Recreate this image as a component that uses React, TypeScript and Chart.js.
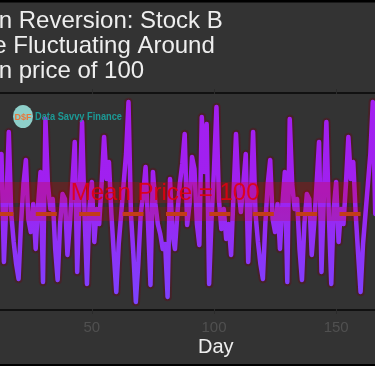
import React, { useEffect, useRef } from "react";
import { Chart, registerables } from "chart.js";

Chart.register(...registerables);

const titleLines = ["Mean Reversion: Stock B", "Price Fluctuating Around", "Mean price of 100"];
const xAxisTitle = "Day";
const xTickValues = [50, 100, 150];
const meanPrice = 100;
const meanLabel = "Mean Price = 100";
const meanLineEndDay = 160;
const brandName = "Data Savvy Finance";
const brandInitials = "D$F";

// daily prices, day 0 .. 199
const prices = [
  104.5, 110.7, 101.5, 98.5, 100.5, 97.5, 99.0, 95.9, 102.0, 108.0,
  102.5, 100.2, 103.0, 106.0, 95.2, 101.0, 108.2, 100.0, 97.2, 95.0,
  93.5, 99.0, 103.0, 105.4, 99.5, 98.2, 101.0, 96.5, 101.0, 104.2,
  93.2, 109.5, 103.0, 100.5, 101.5, 96.5, 93.4, 99.0, 102.0, 101.5,
  95.9, 99.0, 103.0, 107.2, 94.2, 102.0, 109.2, 100.0, 93.0, 100.5,
  103.2, 97.2, 100.5, 99.0, 103.0, 107.7, 103.5, 105.2, 100.0, 96.0,
  92.2, 97.0, 100.0, 103.0, 106.0, 111.2, 100.0, 96.0, 91.2, 95.0,
  100.0, 102.0, 104.7, 99.0, 92.9, 104.2, 101.0, 99.0, 98.0, 96.5,
  97.0, 91.7, 103.5, 98.0, 96.5, 100.0, 103.0, 105.0, 108.0, 98.9,
  101.0, 105.7, 104.5, 99.0, 96.9, 109.7, 104.2, 109.0, 93.0, 99.5,
  104.5, 110.7, 101.5, 98.5, 100.5, 97.5, 99.0, 95.9, 102.0, 108.0,
  102.5, 100.2, 103.0, 106.0, 95.2, 101.0, 108.2, 100.0, 97.2, 95.0,
  93.5, 99.0, 103.0, 105.4, 99.5, 98.2, 101.0, 96.5, 101.0, 104.2,
  93.2, 109.5, 103.0, 100.5, 101.5, 96.5, 93.4, 99.0, 102.0, 101.5,
  95.9, 99.0, 103.0, 107.2, 94.2, 102.0, 109.2, 100.0, 93.0, 100.5,
  103.2, 97.2, 100.5, 99.0, 103.0, 107.7, 103.5, 105.2, 100.0, 96.0,
  92.2, 97.0, 100.0, 103.0, 106.0, 111.2, 100.0, 96.0, 91.2, 95.0,
  100.0, 102.0, 104.7, 99.0, 92.9, 104.2, 101.0, 99.0, 98.0, 96.5,
  97.0, 91.7, 103.5, 98.0, 96.5, 100.0, 103.0, 105.0, 108.0, 98.9,
  101.0, 105.7, 104.5, 99.0, 96.9, 109.7, 104.2, 109.0, 93.0, 99.5,
];
const days = prices.map((_, i) => i);

const FONT = '"Liberation Sans", Arial, sans-serif';

export default function App() {
  const ref = useRef<HTMLCanvasElement | null>(null);

  useEffect(() => {
    const canvas = ref.current;
    if (!canvas) return;

    const decor = {
      id: "decor",
      beforeDraw(chart: any) {
        const ctx = chart.ctx;
        ctx.save();
        ctx.fillStyle = "#333333";
        ctx.fillRect(0, 0, chart.width, chart.height);
        ctx.fillStyle = "#000000";
        ctx.fillRect(0, 0, chart.width, 2.5);
        ctx.fillRect(0, chart.height - 2, chart.width, 2);
        ctx.restore();
      },
      afterDatasetsDraw(chart: any) {
        const ctx = chart.ctx;
        const xs = chart.scales.x;
        const ys = chart.scales.y;
        const a = chart.chartArea;
        const x0 = xs.getPixelForValue(0);
        const x1 = xs.getPixelForValue(meanLineEndDay);
        const ym = ys.getPixelForValue(meanPrice);
        ctx.save();

        // mean line glow band
        ctx.fillStyle = "rgba(220,0,0,0.2)";
        ctx.fillRect(x0, ym - 7, x1 - x0, 14);
        // dashed mean line
        ctx.strokeStyle = "rgb(195,60,25)";
        ctx.lineWidth = 4;
        ctx.setLineDash([21, 22.4]);
        ctx.beginPath();
        ctx.moveTo(x1, ym);
        ctx.lineTo(x0, ym);
        ctx.stroke();
        ctx.setLineDash([]);

        // annotation box + text
        ctx.fillStyle = "rgba(220,0,0,0.25)";
        ctx.fillRect(x0, ym - 32, x1 - x0, 21);
        ctx.fillStyle = "rgba(225,0,15,0.9)";
        ctx.font = `24px ${FONT}`;
        ctx.textAlign = "center";
        ctx.textBaseline = "alphabetic";
        ctx.fillText(meanLabel, xs.getPixelForValue(meanLineEndDay / 2), ym - 14);

        // axis borders
        ctx.strokeStyle = "#111111";
        ctx.lineWidth = 2;
        ctx.beginPath();
        ctx.moveTo(0, a.top);
        ctx.lineTo(chart.width, a.top);
        ctx.moveTo(0, a.bottom);
        ctx.lineTo(chart.width, a.bottom);
        ctx.stroke();
        ctx.strokeStyle = "#2a2a2a";
        ctx.lineWidth = 1;
        for (const v of xTickValues) {
          const px = Math.round(xs.getPixelForValue(v)) + 0.5;
          ctx.beginPath();
          ctx.moveTo(px, a.bottom - 1);
          ctx.lineTo(px, a.bottom + 4);
          ctx.moveTo(px, a.top - 4);
          ctx.lineTo(px, a.top + 1);
          ctx.stroke();
        }

        // tick labels
        ctx.fillStyle = "#505050";
        ctx.font = `15px ${FONT}`;
        ctx.textAlign = "center";
        for (const v of xTickValues) {
          ctx.fillText(String(v), xs.getPixelForValue(v), a.bottom + 22);
        }

        // axis title
        ctx.fillStyle = "#eeeeee";
        ctx.font = `20px ${FONT}`;
        ctx.fillText(xAxisTitle, xs.getPixelForValue(100.7), a.bottom + 42.5);

        // chart title
        ctx.textAlign = "left";
        ctx.font = `24px ${FONT}`;
        titleLines.forEach((t, i) => {
          ctx.fillText(t, -48, 27.5 + i * 25);
        });

        // brand logo
        ctx.fillStyle = "#8ecfc9";
        ctx.beginPath();
        ctx.ellipse(23, 116.5, 10, 11.5, 0, 0, Math.PI * 2);
        ctx.fill();
        ctx.fillStyle = "#e8773a";
        ctx.font = `bold 9px ${FONT}`;
        ctx.textAlign = "center";
        ctx.fillText(brandInitials, 23, 120);
        ctx.fillStyle = "#1c9a96";
        ctx.font = `bold 11px ${FONT}`;
        ctx.textAlign = "left";
        ctx.fillText(brandName, 35, 120, 87);

        ctx.restore();
      },
    };

    const points = prices.map((p, i) => ({ x: days[i], y: p }));

    const chart = new Chart(canvas, {
      type: "line",
      data: {
        datasets: [
          {
            data: points,
            order: 1,
            borderWidth: 4.5,
            pointRadius: 0,
            tension: 0,
            borderJoinStyle: "round",
            borderCapStyle: "round",
            borderColor: (c: any) => {
              const area = c.chart.chartArea;
              if (!area) return "#a020f0";
              const g = c.chart.ctx.createLinearGradient(0, area.top, 0, area.bottom);
              g.addColorStop(0, "#a31ff0");
              g.addColorStop(0.45, "#a020f0");
              g.addColorStop(1, "#7a45ff");
              return g;
            },
          },
          {
            data: points,
            order: 2,
            borderWidth: 8.5,
            pointRadius: 0,
            tension: 0,
            borderJoinStyle: "round",
            borderColor: "rgba(110,0,20,0.32)",
          },
        ],
      },
      options: {
        responsive: false,
        animation: false,
        events: [],
        layout: { padding: { top: 93, bottom: 56, left: 0, right: 0 } },
        plugins: { legend: { display: false }, tooltip: { enabled: false }, title: { display: false } },
        scales: {
          x: { type: "linear", display: false, min: 12.4, max: 165.9 },
          y: { type: "linear", display: false, min: 90.4, max: 112.1 },
        },
      },
      plugins: [decor],
    });

    return () => chart.destroy();
  }, []);

  return (
    <div style={{ position: "fixed", left: 0, top: 0, width: 375, height: 366, overflow: "hidden" }}>
      <canvas ref={ref} width={375} height={366} style={{ display: "block" }} />
    </div>
  );
}
